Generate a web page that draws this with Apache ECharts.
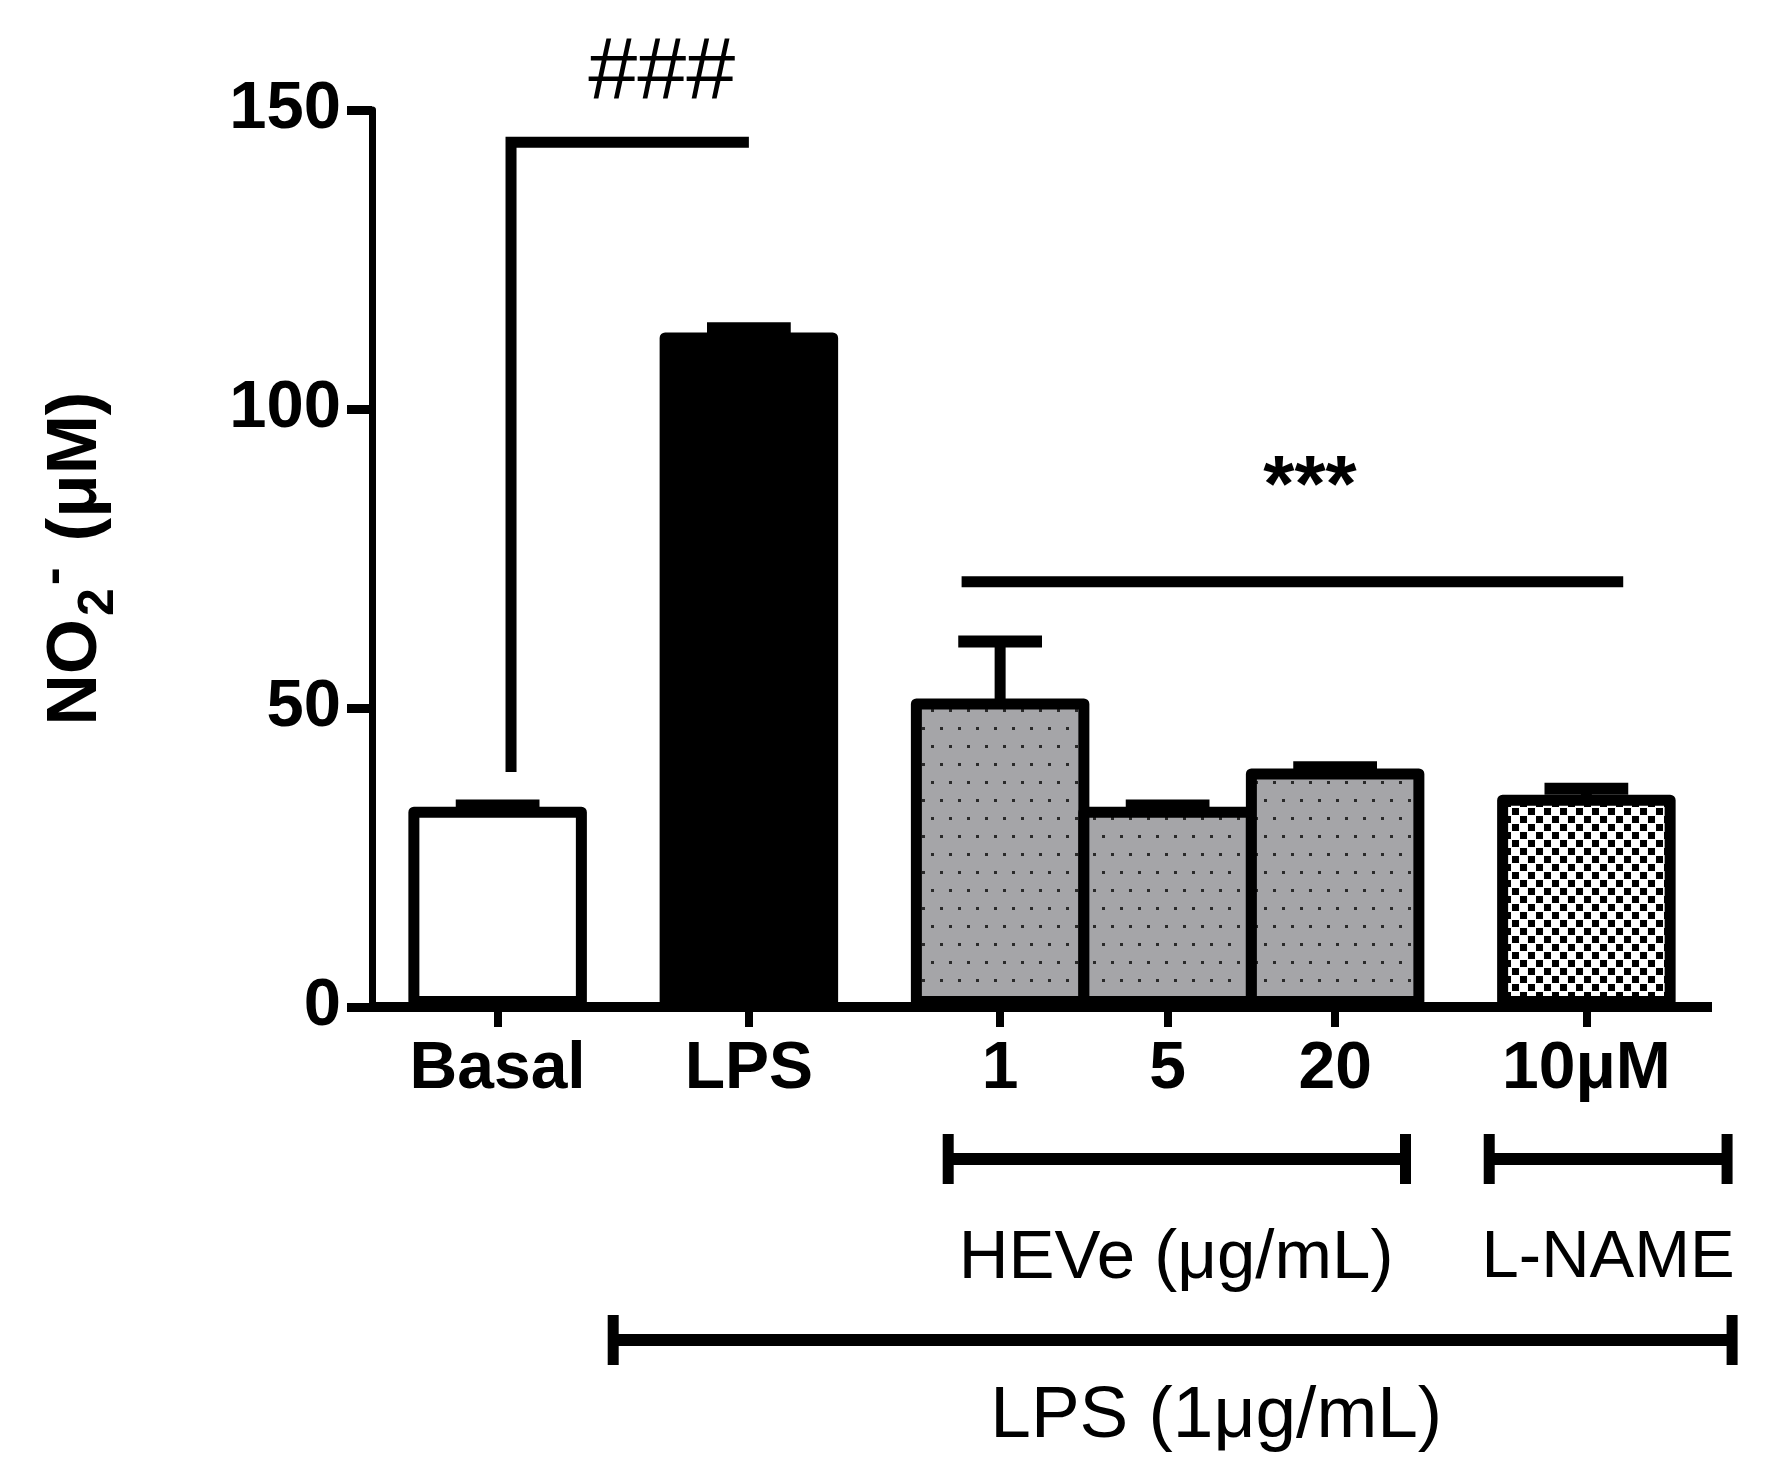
<!DOCTYPE html>
<html>
<head>
<meta charset="utf-8">
<script src="https://cdn.jsdelivr.net/npm/echarts@6/dist/echarts.min.js"></script>
<style>
html,body{margin:0;padding:0;background:#fff;}
#chart{width:1773px;height:1481px;}
</style>
</head>
<body>
<div id="chart"></div>
<script>
// ---- data ----
const categories = ['Basal', 'LPS', '1', '5', '20', '10\u03bcM'];
const groupIds   = [0, 1, 2, 2, 2, 3];          // treatment group of each bar
const means      = [33.5, 112.8, 51.6, 33.5, 39.9, 35.5];
const sems       = [0.2, 0.7, 9.5, 0.2, 0.2, 1.0];
const fills      = ['white', 'black', 'dots', 'dots', 'dots', 'checker'];
const yTicks     = [0, 50, 100, 150];
const sigBasalLPS = { from: 39.3, level: 144.6, label: '###' };
const sigHEVe     = { level: 71.1, label: '***' };

// ---- layout helpers (positions derived from group structure) ----
const GAP = 0.5;
const positions = [];
categories.forEach((c, i) => {
  if (i === 0) positions.push(0);
  else positions.push(positions[i - 1] + 1 + (groupIds[i] === groupIds[i - 1] ? 0 : GAP));
});
const xMin = positions[0] - 0.75;
const xMax = positions[positions.length - 1] + 0.75;

const FONT = "'Liberation Sans', Arial, Helvetica, sans-serif";

function dotPattern() {
  const c = document.createElement('canvas');
  c.width = 18; c.height = 36;
  const g = c.getContext('2d');
  g.fillStyle = '#a5a5a8'; g.fillRect(0, 0, 18, 36);
  g.fillStyle = '#2a2a2a';
  g.fillRect(4, 7, 3, 3);
  g.fillRect(13, 25, 3, 3);
  return { image: c, repeat: 'repeat' };
}
function checkerPattern() {
  const c = document.createElement('canvas');
  c.width = 16; c.height = 16;
  const g = c.getContext('2d');
  g.fillStyle = '#ffffff'; g.fillRect(0, 0, 16, 16);
  g.fillStyle = '#000000';
  g.fillRect(0, 0, 7, 7);
  g.fillRect(8, 8, 7, 7);
  return { image: c, repeat: 'repeat' };
}
const fillMap = { white: '#ffffff', black: '#000000', dots: dotPattern(), checker: checkerPattern() };

const chart = echarts.init(document.getElementById('chart'), null, { renderer: 'canvas' });

const GRID = { left: 372, right: 61, top: 110, bottom: 474 };
const gridWidth = 1773 - GRID.left - GRID.right;
const slotPx = gridWidth / (xMax - xMin);
const BORDER = 11;

const barData = categories.map((c, i) => ({
  value: [positions[i], means[i]],
  itemStyle: { color: fillMap[fills[i]] }
}));
const errData = categories.map((c, i) => [positions[i], means[i], sems[i]]);

chart.setOption({
  animation: false,
  backgroundColor: '#ffffff',
  grid: Object.assign({ containLabel: false, outerBoundsMode: 'none' }, GRID),
  xAxis: {
    type: 'value',
    min: xMin, max: xMax,
    splitLine: { show: false },
    axisLine: { show: true, onZero: false, lineStyle: { color: '#000', width: 10, cap: 'butt' } },
    axisTick: { show: true, customValues: positions, length: 20, lineStyle: { color: '#000', width: 8 } },
    axisLabel: {
      show: true, customValues: positions, margin: 30,
      color: '#000', fontFamily: FONT, fontWeight: 'bold', fontSize: 66,
      formatter: function (v) {
        const i = positions.findIndex(p => Math.abs(p - v) < 1e-6);
        return i >= 0 ? categories[i] : '';
      }
    }
  },
  yAxis: {
    type: 'value',
    min: 0, max: 150, interval: 50,
    splitLine: { show: false },
    axisLine: { show: true, onZero: false, lineStyle: { color: '#000', width: 7 } },
    axisTick: { show: true, length: 25, lineStyle: { color: '#000', width: 9 } },
    axisLabel: {
      margin: 31, color: '#000', fontFamily: FONT, fontWeight: 'bold', fontSize: 67,
      customValues: yTicks
    },
    name: '{a|NO}{sub|2}{sup|-}{a| (\u03bcM)}',
    nameLocation: 'middle',
    nameRotate: 90,
    nameGap: 248,
    nameTextStyle: {
      color: '#000', fontFamily: FONT, fontWeight: 'bold', fontSize: 71,
      rich: {
        a: { fontFamily: FONT, fontWeight: 'bold', fontSize: 71, lineHeight: 96, color: '#000' },
        sub: { fontFamily: FONT, fontWeight: 'bold', fontSize: 50, lineHeight: 66, verticalAlign: 'bottom', color: '#000', padding: [0, 3, 0, 3] },
        sup: { fontFamily: FONT, fontWeight: 'bold', fontSize: 54, lineHeight: 66, verticalAlign: 'top', color: '#000', padding: [0, 6, 0, 0] }
      }
    }
  },
  series: [
    {
      type: 'bar',
      data: barData,
      barWidth: slotPx + BORDER,
      itemStyle: { borderColor: '#000', borderWidth: BORDER, borderJoin: 'round' },
      z: 2
    },
    {
      type: 'custom',
      data: errData,
      z: 3,
      renderItem: function (params, api) {
        const x = api.value(0), m = api.value(1), e = api.value(2);
        const p0 = api.coord([x, m]);
        const p1 = api.coord([x, m + e]);
        const half = api.size([1, 0])[0] * 0.25;
        return {
          type: 'group',
          children: [
            { type: 'line', shape: { x1: p0[0], y1: p0[1] + 4, x2: p1[0], y2: p1[1] }, style: { stroke: '#000', lineWidth: 11, lineCap: 'butt' } },
            { type: 'line', shape: { x1: p1[0] - half, y1: p1[1], x2: p1[0] + half, y2: p1[1] }, style: { stroke: '#000', lineWidth: 12, lineCap: 'butt' } }
          ]
        };
      }
    }
  ]
});

// ---- annotations (placed through the axes' own scales) ----
function px(x, y) { return chart.convertToPixel({ gridIndex: 0 }, [x, y]); }
const base = px(0, 0)[1];
const topY = px(0, 150)[1];
const lw = 11;
const g = [];

// Basal vs LPS bracket
const a0 = px(positions[0] + 0.08, sigBasalLPS.from);
const a1 = px(positions[0] + 0.08, sigBasalLPS.level);
const a2 = px(positions[1], sigBasalLPS.level);
g.push({ type: 'polyline', shape: { points: [a0, a1, a2] }, style: { stroke: '#000', lineWidth: lw, fill: null, lineJoin: 'miter', lineCap: 'butt' } });
g.push({ type: 'text', x: px(positions[1] - 0.52, 0)[0], y: topY - 36,
  style: { text: sigBasalLPS.label, font: "88px " + FONT, fill: '#000', align: 'center', verticalAlign: 'middle' } });

// HEVe/L-NAME vs LPS line
const b0 = px(positions[2] - 0.23, sigHEVe.level);
const b1 = px(positions[5] + 0.22, sigHEVe.level);
g.push({ type: 'line', shape: { x1: b0[0], y1: b0[1], x2: b1[0], y2: b1[1] }, style: { stroke: '#000', lineWidth: lw } });
g.push({ type: 'text', x: px(positions[4] - 0.15, 0)[0], y: b0[1] - 93,
  style: { text: sigHEVe.label, font: "bold 80px " + FONT, fill: '#000', align: 'center', verticalAlign: 'middle' } });

// treatment brackets below the axis
function bracket(xa, xb, y) {
  const l = px(xa, 0)[0], r = px(xb, 0)[0];
  g.push({ type: 'line', shape: { x1: l, y1: y, x2: r, y2: y }, style: { stroke: '#000', lineWidth: 12 } });
  g.push({ type: 'line', shape: { x1: l, y1: y - 25, x2: l, y2: y + 25 }, style: { stroke: '#000', lineWidth: 11 } });
  g.push({ type: 'line', shape: { x1: r, y1: y - 25, x2: r, y2: y + 25 }, style: { stroke: '#000', lineWidth: 11 } });
}
bracket(positions[2] - 0.31, positions[4] + 0.42, base + 152);
bracket(positions[5] - 0.58, positions[5] + 0.84, base + 152);
bracket(positions[1] - 0.81, positions[5] + 0.87, base + 333);

g.push({ type: 'text', x: px(positions[3] + 0.05, 0)[0], y: base + 252,
  style: { text: 'HEVe (\u03bcg/mL)', font: "69px " + FONT, fill: '#000', align: 'center', verticalAlign: 'middle' } });
g.push({ type: 'text', x: px(positions[5] + 0.13, 0)[0], y: base + 252,
  style: { text: 'L-NAME', font: "67px " + FONT, fill: '#000', align: 'center', verticalAlign: 'middle' } });
g.push({ type: 'text', x: px(positions[3] + 0.29, 0)[0], y: base + 410,
  style: { text: 'LPS (1\u03bcg/mL)', font: "73px " + FONT, fill: '#000', align: 'center', verticalAlign: 'middle' } });

chart.setOption({ graphic: { elements: g.map(e => Object.assign({ z: 10, silent: true }, e)) } });
</script>
</body>
</html>
